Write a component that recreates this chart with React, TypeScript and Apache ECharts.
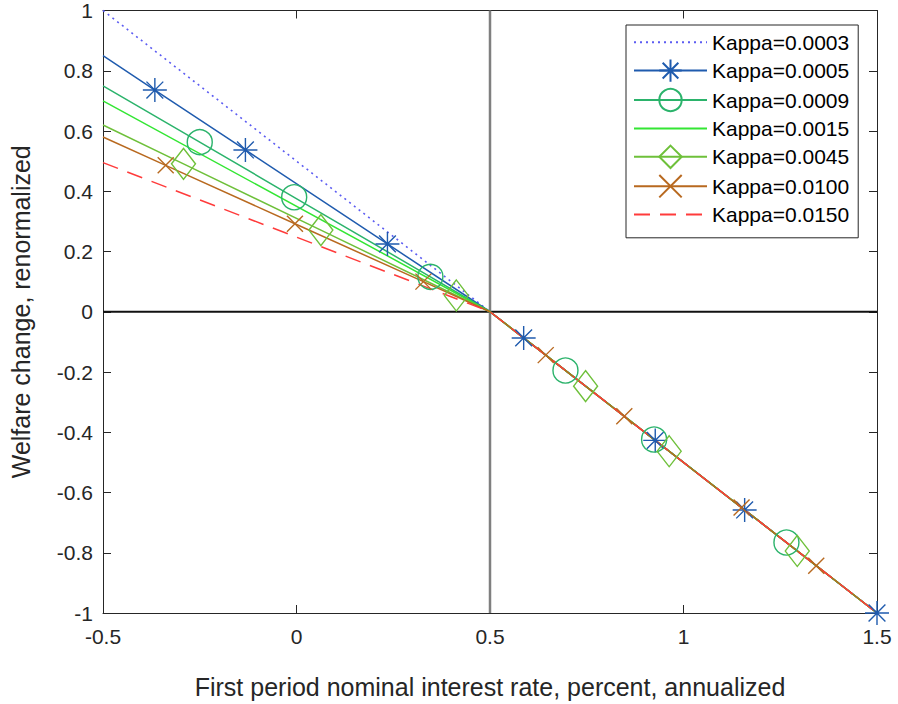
import React, { useEffect, useRef } from "react";
import * as echarts from "echarts";

// ---- data ----
const xTickValues = [-0.5, 0, 0.5, 1, 1.5];
const xTickLabels = ["-0.5", "0", "0.5", "1", "1.5"];
const yTickValues = [-1, -0.8, -0.6, -0.4, -0.2, 0, 0.2, 0.4, 0.6, 0.8, 1];
const yTickLabels = ["-1", "-0.8", "-0.6", "-0.4", "-0.2", "0", "0.2", "0.4", "0.6", "0.8", "1"];

const seriesNames = [
  "Kappa=0.0003",
  "Kappa=0.0005",
  "Kappa=0.0009",
  "Kappa=0.0015",
  "Kappa=0.0045",
  "Kappa=0.0100",
  "Kappa=0.0150",
];

// unmarked vertices of each curve
const line0003 = [[-0.5, 1], [0.5, 0], [1.5, -1]];
const line0005 = [[-0.5, 0.85], [0.5, 0]];
const line0009 = [[-0.5, 0.75], [0.5, 0], [1.5, -1]];
const line0015 = [[-0.5, 0.7], [0.5, 0], [1.5, -1]];
const line0045 = [[-0.5, 0.62], [0.5, 0], [1.5, -1]];
const line0100 = [[-0.5, 0.58], [0.5, 0], [1.5, -1]];
const line0150 = [[-0.5, 0.495], [0.5, 0], [1.5, -1]];

// marked points
const mark0005 = [[-0.366, 0.736], [-0.132, 0.537], [0.235, 0.225], [0.587, -0.087], [0.927, -0.427], [1.158, -0.658], [1.5, -1]];
const mark0009 = [[-0.25, 0.563], [-0.006, 0.38], [0.346, 0.116], [0.695, -0.195], [0.924, -0.424], [1.266, -0.766]];
const mark0045 = [[-0.292, 0.491], [0.063, 0.271], [0.413, 0.054], [0.747, -0.247], [0.963, -0.463], [1.294, -0.794]];
const mark0100 = [[-0.338, 0.486], [-0.004, 0.292], [0.328, 0.1], [0.644, -0.144], [0.847, -0.347], [1.15, -0.65], [1.343, -0.843]];

const FONT = "'Liberation Sans', Arial, Helvetica, sans-serif";
const TXT = "#262626";

const STAR = "path://M0,-10L0,10M-10,0L10,0M-7,-7L7,7M-7,7L7,-7";
const XMARK = "path://M-10,-10L10,10M-10,10L10,-10";

function build(line: number[][], marks: number[][]) {
  const items: any[] = [
    ...line.map((p) => ({ value: p, symbol: "none" })),
    ...marks.map((p) => ({ value: p })),
  ];
  items.sort((a, b) => a.value[0] - b.value[0]);
  return items;
}

function fmt(values: number[], labels: string[]) {
  return (v: number) => {
    const i = values.findIndex((t) => Math.abs(t - v) < 1e-6);
    return i >= 0 ? labels[i] : "";
  };
}

export default function App() {
  const ref = useRef<HTMLDivElement>(null);
  useEffect(() => {
    if (!ref.current) return;
    const chart = echarts.init(ref.current, null, { renderer: "svg" });

    const mk = (
      name: string,
      color: string,
      data: any[],
      symbol: string | null,
      symbolSize: any,
      lineType: any = "solid",
      lineWidth = 1.5
    ) => ({
      name,
      type: "line",
      xAxisIndex: 0,
      yAxisIndex: 0,
      data,
      color,
      symbol: symbol || "circle",
      symbolSize: symbol ? symbolSize : 1,
      showSymbol: true,
      showAllSymbol: true,
      clip: false,
      lineStyle: { color, width: lineWidth, type: lineType },
      itemStyle: symbol
        ? { color: "transparent", borderColor: color, borderWidth: 1.4 }
        : { color: "transparent", borderColor: "transparent", borderWidth: 0, opacity: 0 },
      emphasis: { disabled: true },
      z: 3,
    });

    const axisCommon = {
      axisLine: { show: true, onZero: false, lineStyle: { color: TXT, width: 1 } },
      axisTick: { show: true, inside: true, length: 8, lineStyle: { color: TXT, width: 1 } },
      splitLine: { show: false },
    };

    const option: any = {
      animation: false,
      backgroundColor: "#fff",
      grid: { left: 98, right: 21, top: 6, bottom: 81, containLabel: false },
      xAxis: [
        {
          type: "value",
          min: -0.5,
          max: 1.5,
          interval: 0.5,
          position: "bottom",
          name: "First period nominal interest rate, percent, annualized",
          nameLocation: "middle",
          nameGap: 61,
          nameTextStyle: { fontFamily: FONT, fontSize: 25, color: TXT },
          axisLabel: {
            fontFamily: FONT,
            fontSize: 21,
            color: TXT,
            margin: 13,
            formatter: fmt(xTickValues, xTickLabels),
          },
          ...axisCommon,
        },
        {
          type: "value",
          min: -0.5,
          max: 1.5,
          interval: 0.5,
          position: "top",
          axisLabel: { show: false },
          ...axisCommon,
        },
      ],
      yAxis: [
        {
          type: "value",
          min: -1,
          max: 1,
          interval: 0.2,
          position: "left",
          name: "Welfare change, renormalized",
          nameLocation: "middle",
          nameGap: 70,
          nameTextStyle: { fontFamily: FONT, fontSize: 25, color: TXT },
          axisLabel: {
            fontFamily: FONT,
            fontSize: 21,
            color: TXT,
            margin: 10,
            formatter: fmt(yTickValues, yTickLabels),
          },
          ...axisCommon,
        },
        {
          type: "value",
          min: -1,
          max: 1,
          interval: 0.2,
          position: "right",
          axisLabel: { show: false },
          ...axisCommon,
        },
      ],
      legend: {
        show: true,
        data: seriesNames,
        orient: "vertical",
        left: 626,
        top: 25,
        align: "left",
        itemWidth: 73,
        itemHeight: 28,
        itemGap: 5,
        padding: [6, 9, 12, 7],
        backgroundColor: "#fff",
        borderColor: TXT,
        borderWidth: 1,
        borderRadius: 0,
        selectedMode: false,
        textStyle: { fontFamily: FONT, fontSize: 21, color: "#000" },
      },
      series: [
        {
          name: "zeroY",
          type: "line",
          data: [[-0.5, 0], [1.5, 0]],
          symbol: "none",
          lineStyle: { color: "#111", width: 2 },
          silent: true,
          z: 1,
        },
        {
          name: "zeroX",
          type: "line",
          data: [[0.5, -1], [0.5, 1]],
          symbol: "none",
          lineStyle: { color: "#7f7f7f", width: 2.5 },
          silent: true,
          z: 1,
        },
        mk(seriesNames[0], "#5C5CF2", build(line0003, []), null, 0, [2, 4], 1.6),
        mk(seriesNames[1], "#1F5BAE", build(line0005, mark0005), STAR, 24),
        mk(seriesNames[2], "#2BB36B", build(line0009, mark0009), "circle", 25),
        mk(seriesNames[3], "#33E633", build(line0015, []), null, 0),
        mk(seriesNames[4], "#6EC03A", build(line0045, mark0045), "diamond", [24, 31]),
        mk(seriesNames[5], "#B8691F", build(line0100, mark0100), XMARK, 16),
        mk(seriesNames[6], "#FF3B3B", build(line0150, []), null, 0, [16, 10]),
      ],
    };
    chart.setOption(option);
    return () => chart.dispose();
  }, []);
  return <div ref={ref} style={{ width: 898, height: 704, position: "absolute", left: 0, top: 0 }} />;
}
